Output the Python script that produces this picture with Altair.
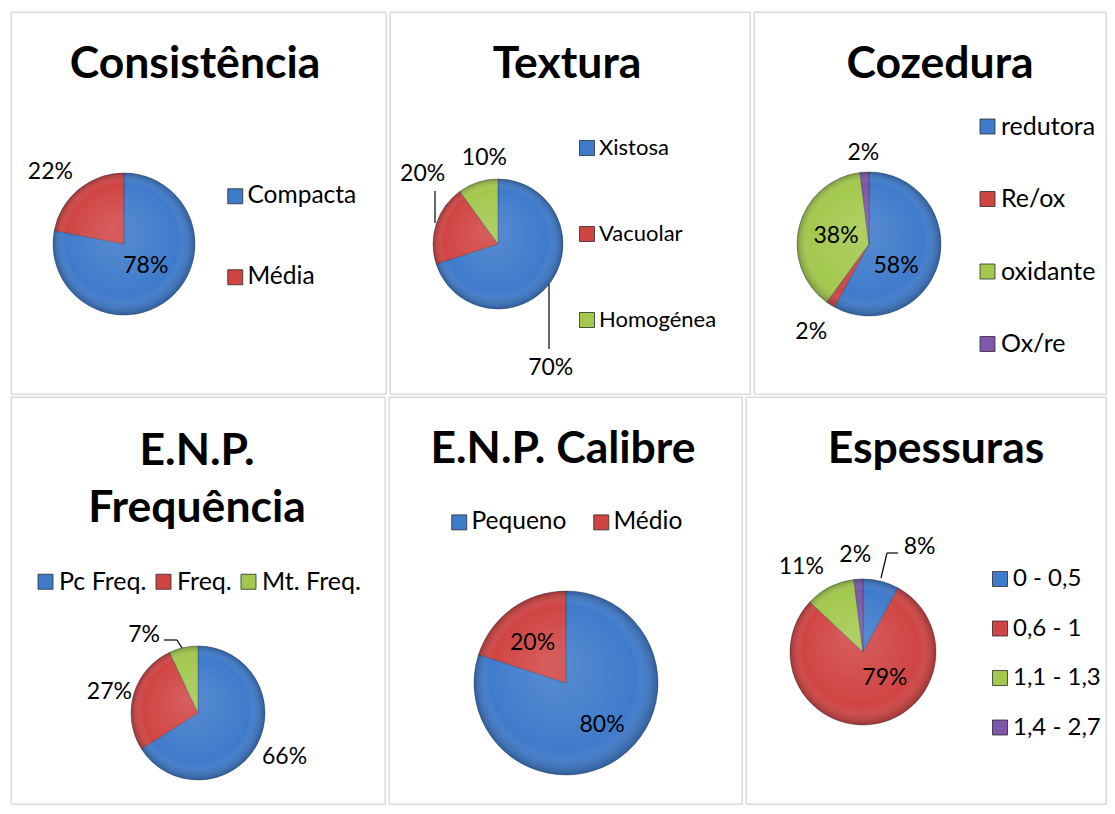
import math
import altair as alt
import pandas as pd

FONT = "Lato"
PALETTE = ["#3F7BCB", "#D04544", "#A3C84D", "#7E56AA"]

# ---------------- data ----------------
cons_title = "Consistência"
cons_cats = ["Compacta", "Média"]
cons_vals = [78, 22]

tex_title = "Textura"
tex_cats = ["Xistosa", "Vacuolar", "Homogénea"]
tex_vals = [70, 20, 10]

coz_title = "Cozedura"
coz_cats = ["redutora", "Re/ox", "oxidante", "Ox/re"]
coz_vals = [58, 2, 38, 2]

freq_title = "E.N.P.\nFrequência"
freq_cats = ["Pc Freq.", "Freq.", "Mt. Freq."]
freq_vals = [66, 27, 7]

cal_title = "E.N.P. Calibre"
cal_cats = ["Pequeno", "Médio"]
cal_vals = [80, 20]

esp_title = "Espessuras"
esp_cats = ["0 - 0,5", "0,6 - 1", "1,1 - 1,3", "1,4 - 2,7"]
esp_vals = [8, 79, 11, 2]

# ---------------- layout (pixels, relative to each panel) ----------------
LAYOUT = {
    "cons": dict(w=375, h=382, cx=113, cy=232, r=71, tx=184, ty=66, tsize=44.5,
                 lab_r=[31, 103], lab_da=[-5, -6], lsize=23,
                 leg=dict(x=212, y=172, dir="vertical", rowpad=56, colpad=10, size=24.5, off=0),
                 leaders=[]),
    "tex": dict(w=360, h=382, cx=108, cy=232, r=65, tx=177, ty=66, tsize=44.5,
                lab_r=[135, 103, 87], lab_da=[31, 25, 9], lsize=23,
                leg=dict(x=186, y=125, dir="vertical", rowpad=64, colpad=10, size=22, off=1),
                leaders=[(45, 179, 45, 211), (159, 272, 159, 337)]),
    "coz": dict(w=352, h=382, cx=115, cy=232, r=72, tx=186, ty=66, tsize=44.5,
                lab_r=[35, 105, 34, 91], lab_da=[25, 1, 0, 0], lsize=23,
                leg=dict(x=221, y=102, dir="vertical", rowpad=46.5, colpad=10, size=25, off=1),
                leaders=[]),
    "freq": dict(w=374, h=407, cx=187, cy=316, r=67, tx=186, ty=68, tsize=44.5,
                 lab_r=[97, 91, 95], lab_da=[-2, -3, -22], lsize=23,
                 leg=dict(x=22, y=172, dir="horizontal", rowpad=10, colpad=4, size=25, off=1),
                 leaders=[(153, 243, 166, 243), (166, 243, 171, 251)]),
    "cal": dict(w=353, h=407, cx=177, cy=286, r=92, tx=174, ty=66, tsize=44.5,
                lab_r=[55, 52], lab_da=[-5, -4], lsize=23,
                leg=dict(x=58, y=113, dir="horizontal", rowpad=10, colpad=22, size=24.5, off=0),
                leaders=[]),
    "esp": dict(w=360, h=407, cx=117, cy=255, r=73, tx=190, ty=66, tsize=44.5,
                lab_r=[119, 34, 105, 97], lab_da=[14, -31, -9, -1], lsize=23,
                leg=dict(x=242, y=170, dir="vertical", rowpad=25.5, colpad=10, size=24, off=1),
                leaders=[(135, 181, 141, 156), (141, 156, 152, 156)]),
}


def panel(title, cats, vals, L):
    n = len(cats)
    total = float(sum(vals))
    lx, ly = [], []
    cum = 0.0
    for v, rr, da in zip(vals, L["lab_r"], L["lab_da"]):
        ang = math.radians((cum + v / 2.0) / total * 360.0 + da)
        lx.append(L["cx"] + rr * math.sin(ang))
        ly.append(L["cy"] - rr * math.cos(ang))
        cum += v
    df = pd.DataFrame({
        "cat": cats,
        "value": vals,
        "idx": list(range(n)),
        "label": [f"{v}%" for v in vals],
        "lx": lx,
        "ly": ly,
    })
    lg = L["leg"]
    legend = alt.Legend(
        orient="none", legendX=lg["x"], legendY=lg["y"], direction=lg["dir"],
        columns=(n if lg["dir"] == "horizontal" else 1),
        title=None, symbolType="square", symbolSize=225,
        symbolStrokeColor="#2b2b2b", symbolStrokeWidth=0.8,
        labelFont=FONT, labelFontSize=lg["size"], labelColor="#000000",
        labelOffset=lg["off"], rowPadding=lg["rowpad"], columnPadding=lg["colpad"],
        padding=0, labelLimit=300,
    )
    color = alt.Color("cat:N", scale=alt.Scale(domain=cats, range=PALETTE[:n]),
                      legend=legend, sort=cats)
    arcs = alt.Chart(df).mark_arc(
        radius=L["r"], stroke="#2a3a55", strokeWidth=0.6, strokeOpacity=0.7
    ).encode(
        theta=alt.Theta("value:Q", stack=True),
        color=color,
        order=alt.Order("idx:Q"),
        x=alt.value(L["cx"]),
        y=alt.value(L["cy"]),
    )
    shade = alt.Chart(pd.DataFrame({"k": [0]})).mark_arc(
        radius=L["r"], theta=0, theta2=2 * math.pi,
        fill={
            "gradient": "radial",
            "x1": 0.42, "y1": 0.38, "r1": 0.0,
            "x2": 0.5, "y2": 0.5, "r2": 0.5,
            "stops": [
                {"offset": 0.0, "color": "rgba(255,255,255,0.14)"},
                {"offset": 0.8, "color": "rgba(255,255,255,0.0)"},
                {"offset": 1.0, "color": "rgba(0,0,0,0.25)"},
            ],
        },
    ).encode(x=alt.value(L["cx"]), y=alt.value(L["cy"]))
    labels = alt.Chart(df).mark_text(
        font=FONT, fontSize=L["lsize"], color="#000000", align="center", baseline="middle"
    ).encode(
        x=alt.X("lx:Q", scale=None, axis=None),
        y=alt.Y("ly:Q", scale=None, axis=None),
        text="label:N",
    )
    ttl = alt.Chart(pd.DataFrame({"t": [title]})).mark_text(
        font=FONT, fontSize=L["tsize"], fontWeight="bold", color="#000000",
        align="center", baseline="alphabetic", lineBreak="\n", lineHeight=57,
    ).encode(text="t:N", x=alt.value(L["tx"]), y=alt.value(L["ty"]))
    # inner light line of the double frame
    frame = alt.Chart(pd.DataFrame({"k": [0]})).mark_rect(
        fillOpacity=0, stroke="#d9d9d9", strokeWidth=1
    ).encode(x=alt.value(0), x2=alt.value(L["w"]), y=alt.value(0), y2=alt.value(L["h"]))
    layers = [arcs, shade, labels, ttl]
    if L["leaders"]:
        seg = pd.DataFrame(L["leaders"], columns=["x1", "y1", "x2", "y2"])
        rules = alt.Chart(seg).mark_rule(color="#000000", strokeWidth=1.2).encode(
            x=alt.X("x1:Q", scale=None, axis=None), x2="x2:Q",
            y=alt.Y("y1:Q", scale=None, axis=None), y2="y2:Q",
        )
        layers.append(rules)
    layers.append(frame)
    return alt.layer(*layers).properties(width=L["w"], height=L["h"])


p1 = panel(cons_title, cons_cats, cons_vals, LAYOUT["cons"])
p2 = panel(tex_title, tex_cats, tex_vals, LAYOUT["tex"])
p3 = panel(coz_title, coz_cats, coz_vals, LAYOUT["coz"])
p4 = panel(freq_title, freq_cats, freq_vals, LAYOUT["freq"])
p5 = panel(cal_title, cal_cats, cal_vals, LAYOUT["cal"])
p6 = panel(esp_title, esp_cats, esp_vals, LAYOUT["esp"])

row1 = alt.hconcat(p1, p2, p3, spacing=4, bounds="flush").resolve_scale(
    color="independent", theta="independent").resolve_legend(color="independent")
row2 = alt.hconcat(p4, p5, p6, spacing=4, bounds="flush").resolve_scale(
    color="independent", theta="independent").resolve_legend(color="independent")

chart = alt.vconcat(row1, row2, spacing=1).resolve_scale(
    color="independent", theta="independent"
).resolve_legend(color="independent").properties(
    padding={"left": 2, "top": 3, "right": 0, "bottom": 0},
    background="white",
).configure_view(stroke="#8a8a8a", strokeWidth=3).configure(font=FONT)

chart.save("out.html", embed_options={"renderer": "svg", "actions": False})
